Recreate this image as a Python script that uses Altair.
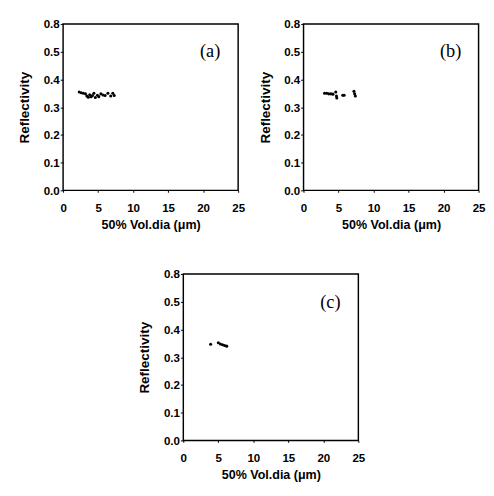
import altair as alt
import pandas as pd

a_x = [2.3, 2.6, 2.9, 3.2, 3.4, 3.6, 3.8, 4.0, 4.2, 4.4, 4.6, 4.9, 5.1, 5.4, 5.7, 6.0, 6.4, 6.8, 7.1, 7.3]
a_y = [0.355, 0.352, 0.350, 0.348, 0.340, 0.336, 0.345, 0.338, 0.342, 0.350, 0.335, 0.343, 0.338, 0.348, 0.344, 0.342, 0.350, 0.340, 0.350, 0.342]
b_x = [3.0, 3.3, 3.6, 3.9, 4.2, 4.6, 4.7, 4.75, 5.6, 5.8, 7.2, 7.3, 7.4]
b_y = [0.350, 0.350, 0.348, 0.348, 0.347, 0.355, 0.340, 0.333, 0.343, 0.343, 0.357, 0.348, 0.340]
c_x = [3.9, 5.0, 5.3, 5.6, 5.9, 6.2]
c_y = [0.347, 0.352, 0.348, 0.345, 0.342, 0.340]

panels = ["(a)", "(b)", "(c)"]
label_x = [21, 21, 21]
label_y = [0.5, 0.5, 0.5]

x_ticks = [0, 5, 10, 15, 20, 25]
y_ticks = [0.0, 0.1, 0.2, 0.3, 0.4, 0.5, 0.6]

x_title = "50% Vol.dia  (\u03bcm)"
y_title = "Reflectivity"

W, H = 182, 173


def panel(xs, ys, name, lx, ly):
    df = pd.DataFrame({"x": xs, "y": ys})
    lab = pd.DataFrame({"x": [lx], "y": [ly], "t": [name]})
    xsc = alt.Scale(domain=[0, 25], nice=False, zero=False)
    ysc = alt.Scale(domain=[0, 0.6], nice=False)
    xax = alt.Axis(values=x_ticks, title=x_title, grid=False, domain=False,
                   labelOverlap=False, labelFlush=False,
                   tickSize=2, tickColor="black", labelFont="Liberation Sans",
                   labelFontWeight="bold", labelFontSize=12, labelColor="black",
                   titleFont="Liberation Sans", titleFontWeight="bold",
                   titleFontSize=13, titleColor="black", titlePadding=6, labelPadding=11)
    yax = alt.Axis(values=y_ticks, title=y_title, grid=False, domain=False,
                   labelOverlap=False, labelFlush=False,
                   tickSize=3, tickColor="black",
                   labelExpr="datum.value > 0.55 ? '0.8' : format(datum.value, '.1f')",
                   labelFont="Liberation Sans", labelFontWeight="bold",
                   labelFontSize=12, labelColor="black",
                   titleFont="Liberation Sans", titleFontWeight="bold",
                   titleFontSize=14, titleColor="black", titlePadding=12, labelPadding=1)
    pts = alt.Chart(df).mark_circle(size=10, color="black", opacity=1).encode(
        x=alt.X("x:Q", scale=xsc, axis=xax),
        y=alt.Y("y:Q", scale=ysc, axis=yax),
    )
    txt = alt.Chart(lab).mark_text(font="Liberation Serif", fontSize=19,
                                   color="black").encode(
        x=alt.X("x:Q", scale=xsc, axis=xax),
        y=alt.Y("y:Q", scale=ysc, axis=yax),
        text="t:N")
    return alt.layer(pts, txt).properties(width=W, height=H)


pa = panel(a_x, a_y, panels[0], label_x[0], label_y[0])
pb = panel(b_x, b_y, panels[1], label_x[1], label_y[1])
pc = panel(c_x, c_y, panels[2], label_x[2], label_y[2])

top = alt.hconcat(pa, pb, spacing=12)
chart = alt.vconcat(top, pc, spacing=36, center=True).configure_view(
    stroke="black", strokeWidth=1.5
).properties(padding={"left": 9, "top": 0, "right": 0, "bottom": 0})

chart.save("out.html", embed_options={"renderer": "svg", "actions": False})
